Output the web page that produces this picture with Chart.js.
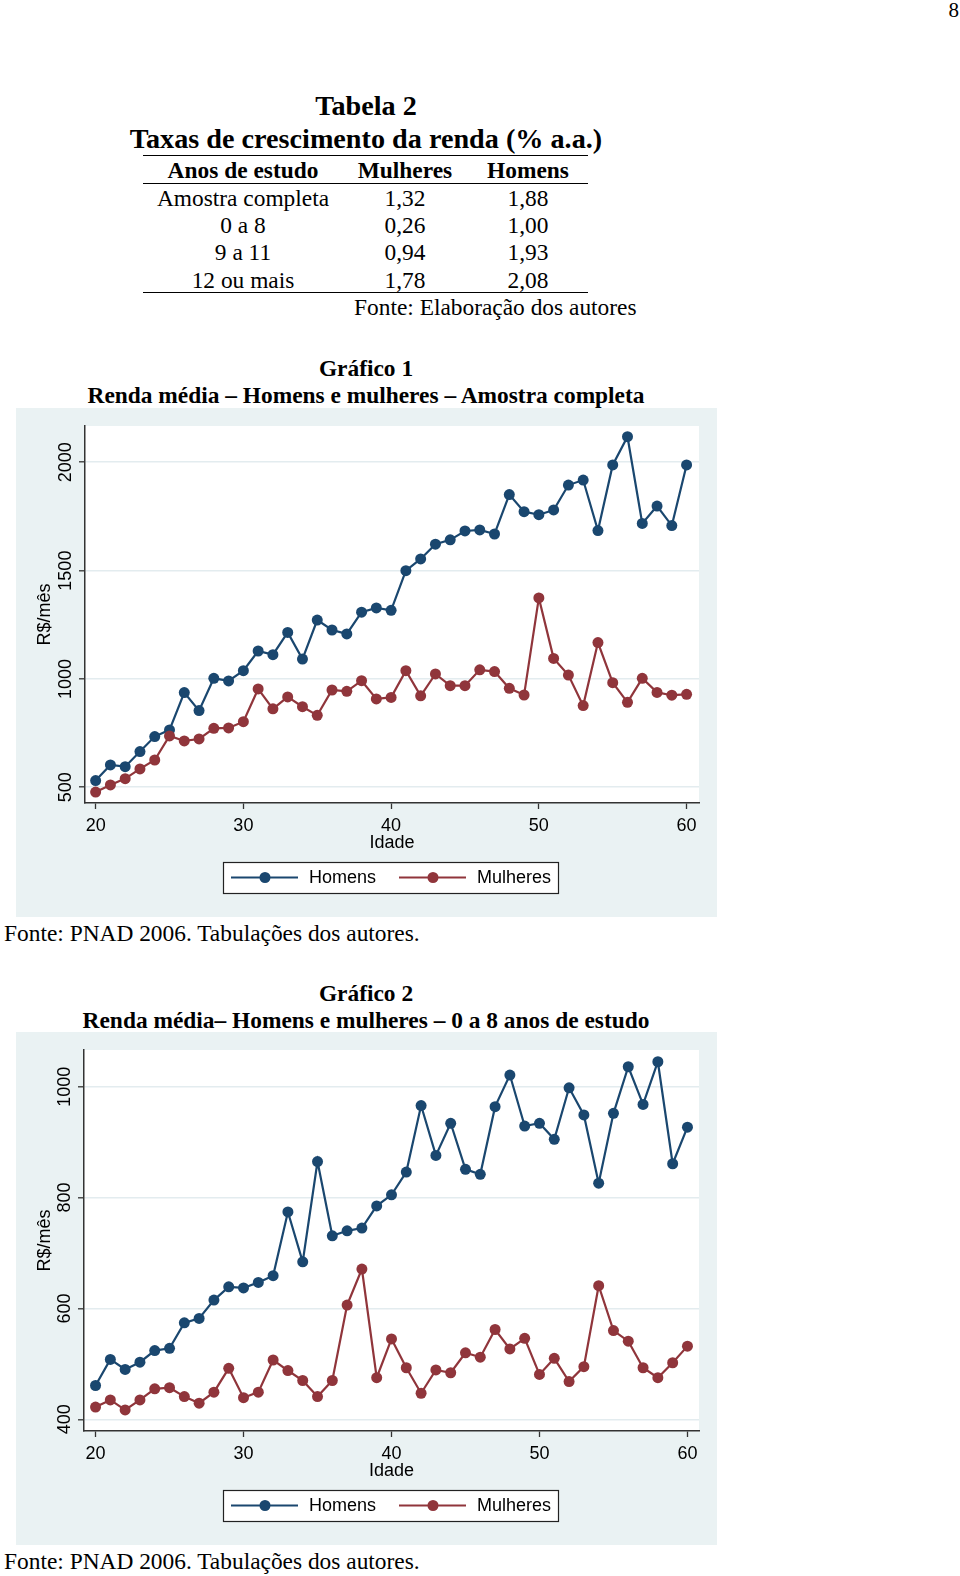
<!DOCTYPE html>
<html><head><meta charset="utf-8">
<script src="https://cdn.jsdelivr.net/npm/chart.js@4.4.1/dist/chart.umd.min.js"></script>
<style>
html,body{margin:0;padding:0;background:#fff;}
body{width:960px;height:1576px;position:relative;overflow:hidden;font-family:"Liberation Serif","Times New Roman",serif;color:#000;}
.t{position:absolute;white-space:nowrap;line-height:30px;height:30px;font-size:23.4px;}
.c{text-align:center;}
.b{font-weight:bold;}
.rule{position:absolute;left:143px;width:445px;height:0;border-top:1.5px solid #000;}
.wrap{position:absolute;left:16px;width:701px;}
canvas{display:block;}
</style></head>
<body>
<div class="t" style="left:900px;width:59px;text-align:right;top:-5px;font-size:21px">8</div>

<div class="t c b" style="left:116px;width:500px;top:91px;font-size:28.2px">Tabela 2</div>
<div class="t c b" style="left:66px;width:600px;top:124px;font-size:28.2px">Taxas de crescimento da renda (% a.a.)</div>
<div class="rule" style="top:155px"></div>
<div class="t c b" style="left:143px;width:200px;top:155px">Anos de estudo</div>
<div class="t c b" style="left:305px;width:200px;top:155px">Mulheres</div>
<div class="t c b" style="left:428px;width:200px;top:155px">Homens</div>
<div class="rule" style="top:183px"></div>
<div id="tableRows"></div>
<div class="rule" style="top:292px"></div>
<div class="t" style="left:354px;top:292px">Fonte: Elaboração dos autores</div>

<div class="t c b" style="left:116px;width:500px;top:353px">Gráfico 1</div>
<div class="t c b" style="left:16px;width:700px;top:380px">Renda média – Homens e mulheres – Amostra completa</div>
<div class="wrap" style="top:408px;height:509px"><canvas id="c1" width="701" height="509"></canvas></div>
<div class="t" style="left:4px;top:918px">Fonte: PNAD 2006. Tabulações dos autores.</div>

<div class="t c b" style="left:116px;width:500px;top:978px">Gráfico 2</div>
<div class="t c b" style="left:16px;width:700px;top:1005px">Renda média– Homens e mulheres – 0 a 8 anos de estudo</div>
<div class="wrap" style="top:1032px;height:513px"><canvas id="c2" width="701" height="513"></canvas></div>
<div class="t" style="left:4px;top:1546px">Fonte: PNAD 2006. Tabulações dos autores.</div>

<script>
// ---- Table data ----
const tableGroups = ['Amostra completa', '0 a 8', '9 a 11', '12 ou mais'];
const tableMulheres = ['1,32', '0,26', '0,94', '1,78'];
const tableHomens = ['1,88', '1,00', '1,93', '2,08'];

// ---- Chart data ----
const ages = [20,21,22,23,24,25,26,27,28,29,30,31,32,33,34,35,36,37,38,39,40,
              41,42,43,44,45,46,47,48,49,50,51,52,53,54,55,56,57,58,59,60];
const xTicks = [20, 30, 40, 50, 60];
const yTicks1 = [500, 1000, 1500, 2000];
const yTicks2 = [400, 600, 800, 1000];
const seriesNames = ['Homens', 'Mulheres'];

// Gráfico 1 – Amostra completa
const homens1 = [531,603,595,665,734,765,937,854,1003,991,1038,1129,1112,1215,1092,1272,1226,1208,1308,1328,1317,
                 1500,1554,1622,1642,1683,1688,1669,1851,1772,1758,1780,1895,1918,1685,1988,2118,1718,1798,1708,1988];
const mulheres1 = [478,511,540,585,626,737,714,723,772,774,803,954,862,917,872,832,949,943,992,908,915,
                   1038,922,1023,969,969,1042,1034,957,926,1374,1095,1018,877,1168,983,892,1003,938,925,929];

// Gráfico 2 – 0 a 8 anos de estudo
const homens2 = [461,508,490,503,524,528,574,582,615,639,637,647,659,774,684,865,731,740,745,785,805,
                 846,966,876,934,851,842,964,1021,929,934,905,998,949,826,952,1036,968,1045,861,927];
const mulheres2 = [422,435,417,435,455,457,441,429,449,492,439,449,507,488,470,441,470,606,671,475,545,
                   493,447,489,484,520,512,562,527,546,481,510,468,495,641,560,541,493,475,502,532];

// table rows
(function(){
  const host = document.getElementById('tableRows');
  const tops = [183, 210, 237, 265];
  tableGroups.forEach((g, i) => {
    const cols = [[143, g], [305, tableMulheres[i]], [428, tableHomens[i]]];
    cols.forEach(([l, txt]) => {
      const d = document.createElement('div');
      d.className = 't c';
      d.style.left = l + 'px'; d.style.width = '200px'; d.style.top = tops[i] + 'px';
      d.textContent = txt;
      host.appendChild(d);
    });
  });
})();

const COLORS = ['#1A476F', '#90353B'];
const SANS = '"Liberation Sans", Arial, Helvetica, sans-serif';
const FS = 18;

const bgPlugin = {
  id: 'bg',
  beforeDraw(chart) {
    const {ctx, chartArea: a, width, height} = chart;
    ctx.save();
    ctx.fillStyle = '#EAF2F3';
    ctx.fillRect(0, 0, width, height);
    ctx.fillStyle = '#FFFFFF';
    ctx.fillRect(a.left, a.top, a.right - a.left, a.bottom - a.top);
    ctx.restore();
  }
};

const boxLegend = {
  id: 'boxLegend',
  afterDraw(chart) {
    const {ctx, chartArea: a} = chart;
    const w = 336, h = 32;
    const cx = (a.left + a.right) / 2 - 1;
    const cy = a.bottom + 74.5;
    const L = Math.round(cx - w / 2), T = Math.round(cy - h / 2);
    ctx.save();
    ctx.fillStyle = '#fff';
    ctx.fillRect(L, T, w, h);
    ctx.strokeStyle = '#222';
    ctx.lineWidth = 1.2;
    ctx.strokeRect(L + 0.5, T + 0.5, w - 1, h - 1);
    ctx.font = FS + 'px ' + SANS;
    ctx.textBaseline = 'middle';
    chart.data.datasets.forEach((ds, i) => {
      const x0 = L + 8 + i * 168;
      ctx.strokeStyle = ds.borderColor; ctx.lineWidth = 2;
      ctx.beginPath(); ctx.moveTo(x0, cy); ctx.lineTo(x0 + 67, cy); ctx.stroke();
      ctx.fillStyle = ds.borderColor;
      ctx.beginPath(); ctx.arc(x0 + 34, cy, 5.5, 0, Math.PI * 2); ctx.fill();
      ctx.fillStyle = '#000';
      ctx.fillText(ds.label, x0 + 78, cy + 1);
    });
    ctx.restore();
  }
};

function makeChart(id, homens, mulheres, xMin, xMax, yMin, yMax, yTicks, yWidth) {
  const series = [homens, mulheres];
  new Chart(document.getElementById(id), {
    type: 'line',
    data: {
      datasets: series.map((vals, k) => ({
        label: seriesNames[k],
        data: ages.map((a, i) => ({x: a, y: vals[i]})),
        borderColor: COLORS[k],
        backgroundColor: COLORS[k],
        pointBackgroundColor: COLORS[k],
        pointBorderWidth: 0,
        pointRadius: 5.5,
        pointHoverRadius: 5.5,
        borderWidth: 2.2,
        tension: 0,
        order: k === 0 ? 1 : 0
      }))
    },
    options: {
      responsive: false,
      animation: false,
      devicePixelRatio: 1,
      layout: {padding: {top: 18, right: 18, left: 0, bottom: 0}},
      plugins: {legend: {display: false}, tooltip: {enabled: false}},
      scales: {
        x: {
          type: 'linear', min: xMin, max: xMax,
          afterBuildTicks: s => { s.ticks = xTicks.map(v => ({value: v})); },
          afterFit: s => { s.height = 114; },
          grid: {drawOnChartArea: false, drawTicks: true, tickLength: 6, tickColor: '#333', tickWidth: 1.3},
          border: {display: true, color: '#333', width: 1.5},
          ticks: {color: '#000', font: {family: SANS, size: FS}, padding: 6.5, maxRotation: 0, autoSkip: false,
                  callback: v => String(v)},
          title: {display: true, text: 'Idade', color: '#000', font: {family: SANS, size: FS},
                  padding: {top: 0, bottom: 63.4}}
        },
        y: {
          type: 'linear', min: yMin, max: yMax,
          afterBuildTicks: s => { s.ticks = yTicks.map(v => ({value: v})); },
          afterFit: s => { s.width = yWidth; },
          grid: {color: '#E3ECEF', lineWidth: 1.6, drawTicks: true, tickLength: 6, tickColor: '#333', tickWidth: 1.3},
          border: {display: true, color: '#333', width: 1.5},
          ticks: {color: '#000', font: {family: SANS, size: FS}, padding: -7, minRotation: 90, maxRotation: 90,
                  crossAlign: 'center', autoSkip: false, callback: v => String(v)},
          title: {display: true, text: 'R$/mês', color: '#000', font: {family: SANS, size: FS},
                  padding: {top: 18.5, bottom: 0}}
        }
      }
    },
    plugins: [bgPlugin, boxLegend]
  });
}

makeChart('c1', homens1, mulheres1, 19.28, 60.84, 427.5, 2167.5, yTicks1, 69);
makeChart('c2', homens2, mulheres2, 19.22, 60.78, 378.9, 1066.2, yTicks2, 68);
</script>
</body></html>
